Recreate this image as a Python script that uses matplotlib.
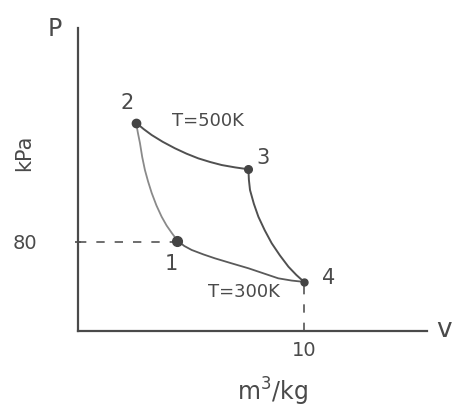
import matplotlib
matplotlib.use("Agg")
import matplotlib.pyplot as plt

# ---- data (v in m^3/kg, P in kPa) ----
state_labels = ["1", "2", "3", "4"]
state_v = [4.4, 2.57, 7.54, 10.0]
state_p = [81, 186.6, 144.9, 44]

# process 1 -> 2
curve12_v = [4.4, 4.15, 3.92, 3.70, 3.47, 3.26, 3.10, 2.96, 2.84, 2.74, 2.65, 2.57]
curve12_p = [81, 87.8, 94.5, 102.4, 112.5, 123.7, 134.0, 144.3, 156.0, 168.5, 177.5, 186.6]
# process 2 -> 3 (T = 500 K)
curve23_v = [2.57, 2.90, 3.26, 3.75, 4.29, 4.80, 5.32, 5.85, 6.36, 6.95, 7.54]
curve23_p = [186.6, 181.0, 175.6, 169.5, 163.7, 158.9, 154.7, 151.4, 148.7, 146.6, 144.9]
# process 3 -> 4
curve34_v = [7.54, 7.56, 7.61, 7.78, 7.98, 8.26, 8.57, 8.93, 9.31, 9.66, 10.0]
curve34_p = [144.9, 135.5, 126.3, 114.0, 102.4, 90.3, 78.6, 67.8, 57.6, 50.2, 44]
# process 1 -> 4 (T = 300 K)
curve14_v = [4.4, 4.70, 5.03, 5.55, 6.06, 6.80, 7.54, 8.20, 8.86, 9.45, 10.0]
curve14_p = [81, 76.2, 72.6, 68.6, 65.1, 60.6, 56.2, 51.7, 47.2, 45.2, 44]

y_tick_values = [80]
x_tick_values = [10]
iso_labels = ["T=500K", "T=300K"]

# ---- drawing ----
plt.rcParams['font.family'] = ['DejaVu Sans']
ink = "#4a4a4a"

W, H = 474, 418
fig = plt.figure(figsize=(W / 100, H / 100), dpi=100)
ax = fig.add_axes([78 / W, 1 - 331 / H, (427 - 78) / W, (331 - 28) / H])
ax.set_xlim(0, 15.44)
ax.set_ylim(0, 271.5)

for s in ["top", "right"]:
    ax.spines[s].set_visible(False)
for s in ["left", "bottom"]:
    ax.spines[s].set_color(ink)
    ax.spines[s].set_linewidth(1.6)

ax.set_yticks(y_tick_values)
ax.set_yticklabels([str(v) for v in y_tick_values])
ax.set_xticks(x_tick_values)
ax.set_xticklabels([str(v) for v in x_tick_values])
ax.tick_params(axis="y", length=4, width=1.2, direction="inout", colors=ink,
               labelsize=14, pad=27)
ax.tick_params(axis="x", length=0, colors=ink, labelsize=14, pad=7)

# curves
ax.plot(curve12_v, curve12_p, color="#8a8a8a", lw=1.3, solid_capstyle="round",
        solid_joinstyle="round")
ax.plot(curve23_v, curve23_p, color="#505050", lw=1.4, solid_capstyle="round",
        solid_joinstyle="round")
ax.plot(curve34_v, curve34_p, color="#505050", lw=1.4, solid_capstyle="round",
        solid_joinstyle="round")
ax.plot(curve14_v, curve14_p, color="#5a5a5a", lw=1.3, solid_capstyle="round",
        solid_joinstyle="round")

# dashed guides
ax.plot([0, state_v[0]], [y_tick_values[0], y_tick_values[0]], ls=(0, (5, 6)),
        color="#555555", lw=1.2)
ax.plot([x_tick_values[0], x_tick_values[0]], [0, state_p[3]], ls=(0, (5, 6)),
        color="#555555", lw=1.2)

# state points
sizes = [7, 6, 5.5, 5]
for v, p, ms in zip(state_v, state_p, sizes):
    ax.plot(v, p, "o", color="#444444", ms=ms, zorder=5)

offsets = [(-6, -23), (-9, 20), (15, 11), (25, 4)]
for lab, v, p, off in zip(state_labels, state_v, state_p, offsets):
    ax.annotate(lab, (v, p), xytext=off, textcoords="offset pixels",
                ha="center", va="center", fontsize=15, color=ink)

ax.annotate(iso_labels[0], (state_v[1], state_p[1]), xytext=(72, 2),
            textcoords="offset pixels", ha="center", va="center",
            fontsize=13, color=ink)
ax.annotate(iso_labels[1], (state_v[3], state_p[3]), xytext=(-60, -10),
            textcoords="offset pixels", ha="center", va="center",
            fontsize=13, color=ink)

# axis labels
fig.text(55 / W, 1 - 29 / H, "P", ha="center", va="center", fontsize=17, color=ink)
fig.text(444 / W, 1 - 330 / H, "v", ha="center", va="center", fontsize=19, color=ink)
fig.text(24 / W, 1 - 153 / H, "kPa", ha="center", va="center", fontsize=15,
         rotation=90, color=ink)
fig.text(272 / W, 1 - 392 / H, "m$^3$/kg", ha="center", va="center", fontsize=17,
         color=ink)

fig.savefig("out.png", dpi=100, facecolor="white")
